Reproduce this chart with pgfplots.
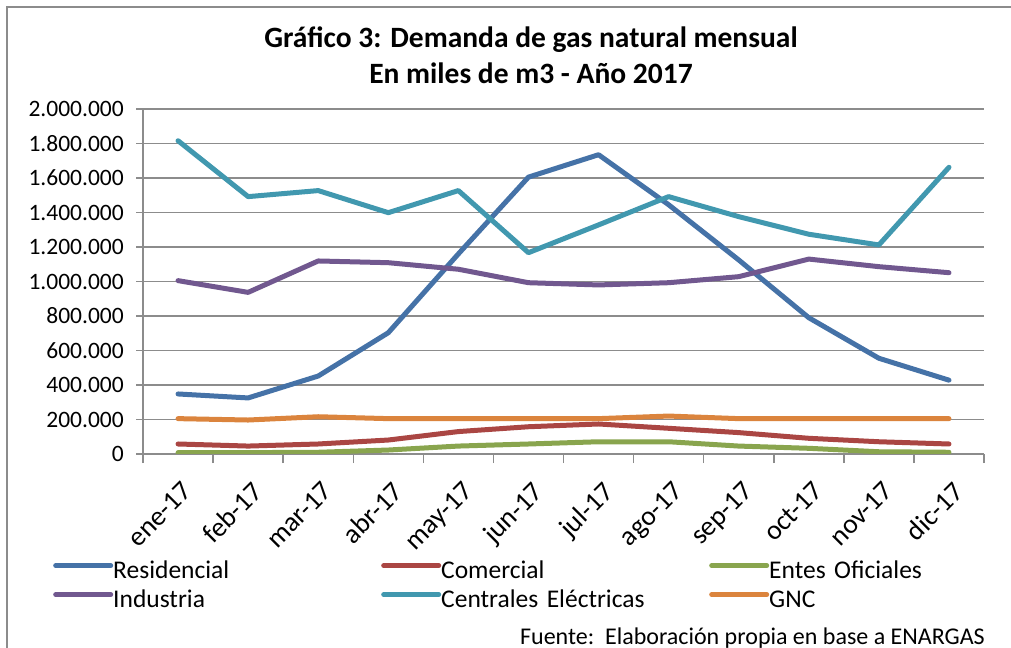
\documentclass[border=0pt]{standalone}
\usepackage{fontspec}
\setmainfont{Carlito}
\usepackage{pgfplots}
\pgfplotsset{compat=1.18}
\definecolor{cRes}{HTML}{4572A7}
\definecolor{cCom}{HTML}{AA4643}
\definecolor{cEnt}{HTML}{89A54E}
\definecolor{cInd}{HTML}{71588F}
\definecolor{cCen}{HTML}{4198AF}
\definecolor{cGnc}{HTML}{DB843D}
\definecolor{gridgray}{HTML}{8C8C8C}
\begin{document}
\begin{tikzpicture}
\path[use as bounding box] (0bp,0bp) rectangle (1011bp,648bp);
\draw[gridgray, line width=2bp] (7bp,0bp) -- (7bp,641bp) -- (1011bp,641bp);
\node[font=\fontsize{29.5bp}{34bp}\selectfont\bfseries] at (531bp,608bp) {Gráfico 3: Demanda de gas natural mensual};
\node[font=\fontsize{29.5bp}{34bp}\selectfont\bfseries] at (531bp,575bp) {En miles de m3 - Año 2017};
\node[anchor=base east, font=\fontsize{24bp}{28bp}\selectfont, inner sep=0pt] at (985bp,4bp) {Fuente:\ \ Elaboración propia en base a ENARGAS};
\begin{axis}[
  at={(143bp,194bp)}, anchor=south west,
  scale only axis, width=841bp, height=345bp,
  xmin=-0.5, xmax=11.5, ymin=0, ymax=2000000,
  axis x line=bottom, axis y line=left,
  axis line style={-, gridgray, line width=1.5bp},
  tick align=outside,
  scaled y ticks=false,
  xtick={0,...,11},
  xticklabels={ene-17,feb-17,mar-17,abr-17,may-17,jun-17,jul-17,ago-17,sep-17,oct-17,nov-17,dic-17},
  major x tick style={draw=none},
  minor xtick={-0.5,0.5,...,11.5},
  minor tick length=9bp,
  major tick length=7bp,
  tick style={gridgray, line width=1.5bp},
  ytick={0,200000,...,2000000},
  yticklabels={0,200.000,400.000,600.000,800.000,1.000.000,1.200.000,1.400.000,1.600.000,1.800.000,2.000.000},
  ymajorgrids,
  grid style={gridgray, line width=1.5bp},
  xticklabel style={xshift=3bp, yshift=-19bp, rotate=45, anchor=north east, inner sep=0pt, font=\fontsize{27.5bp}{32bp}\selectfont},
  yticklabel style={anchor=east, inner sep=0pt, xshift=-12bp, font=\fontsize{23.5bp}{28bp}\selectfont},
  every axis plot/.append style={line width=5bp, line cap=round, line join=round, no markers},
  legend columns=3,
  legend style={at={(-0.107,-0.304)}, anchor=north west, draw=none, fill=none, inner sep=0pt,
    font=\fontsize{25.5bp}{30bp}\selectfont, column sep=0pt, row sep=4bp,
    nodes={text width=268bp, text height=19bp, text depth=6bp, inner sep=0pt, align=left}},
  legend image code/.code={\draw[#1, line width=5bp, line cap=round] (0bp,6bp) -- (55bp,6bp); \path (55bp,0bp);},
]
\addplot[cRes] coordinates {(0,348000) (1,325000) (2,452000) (3,703000) (4,1160000) (5,1605000) (6,1735000) (7,1445000) (8,1125000) (9,790000) (10,555000) (11,428000)};
\addlegendentry{Residencial}
\addplot[cCom] coordinates {(0,58000) (1,46000) (2,58000) (3,81000) (4,130000) (5,158000) (6,174000) (7,149000) (8,124000) (9,91000) (10,71000) (11,58000)};
\addlegendentry{Comercial}
\addplot[cEnt] coordinates {(0,8000) (1,8000) (2,10000) (3,23000) (4,46000) (5,58000) (6,71000) (7,71000) (8,46000) (9,33000) (10,13000) (11,10000)};
\addlegendentry{Entes Oficiales}
\addplot[cInd] coordinates {(0,1005000) (1,937000) (2,1119000) (3,1109000) (4,1071000) (5,993000) (6,980000) (7,993000) (8,1028000) (9,1130000) (10,1086000) (11,1051000)};
\addlegendentry{Industria}
\addplot[cCen] coordinates {(0,1816000) (1,1492000) (2,1527000) (3,1399000) (4,1527000) (5,1167000) (6,1328000) (7,1492000) (8,1376000) (9,1274000) (10,1212000) (11,1662000)};
\addlegendentry{Centrales Eléctricas}
\addplot[cGnc] coordinates {(0,205000) (1,197000) (2,216000) (3,205000) (4,205000) (5,205000) (6,205000) (7,220000) (8,205000) (9,205000) (10,205000) (11,205000)};
\addlegendentry{GNC}
\end{axis}
\end{tikzpicture}
\end{document}
